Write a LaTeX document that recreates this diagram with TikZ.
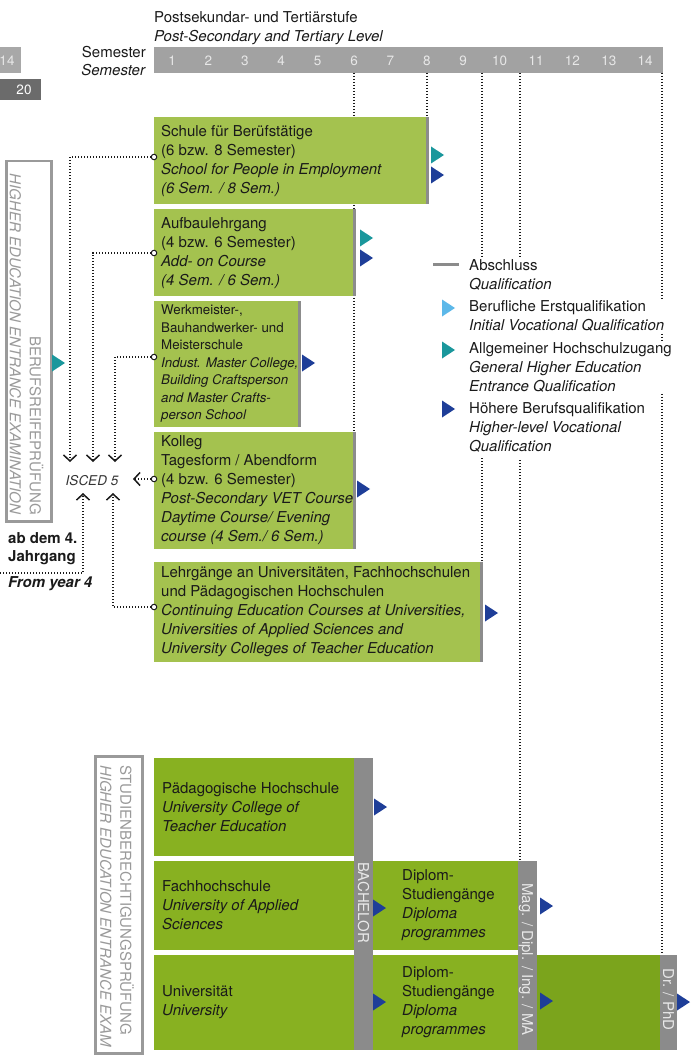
\documentclass[tikz,border=0pt]{standalone}
\usepackage{fontspec}
\setmainfont{TeX Gyre Heros}
\usetikzlibrary{arrows.meta}
\definecolor{lgreen}{HTML}{A4C24F}
\definecolor{dgreen}{HTML}{88B121}
\definecolor{ddgreen}{HTML}{7BA41C}
\definecolor{edgegray}{HTML}{8C8C8C}
\definecolor{bargray}{HTML}{8B8B8B}
\definecolor{hgray}{HTML}{A2A2A2}
\definecolor{numgray}{HTML}{E8E8E8}
\definecolor{rotgray}{HTML}{9A9A9A}
\definecolor{teal1}{HTML}{1A979C}
\definecolor{blue1}{HTML}{1E3E98}
\definecolor{lblue}{HTML}{5CB8E9}
\definecolor{ink}{HTML}{1A1A1A}
\definecolor{g14}{HTML}{A8A8A8}
\definecolor{g20}{HTML}{6B6B6B}
\definecolor{isc}{HTML}{333333}
\newcommand\mytri[3]{\fill[#1] (#2,#3) ++(0,-8.5) -- ++(13,8.5) -- ++(-13,8.5) -- cycle;}
\begin{document}
\begin{tikzpicture}[x=1pt,y=-1pt,
 fnt/.style={font=\fontsize{15}{19}\selectfont},
 txt/.style={fnt, text=ink, align=left, inner sep=0pt, anchor=west},
 line/.style={fnt, text=ink, inner sep=0pt, anchor=base west},
 tbox/.style={fill=lgreen, inner sep=0pt, outer sep=0pt, anchor=north west,
   path picture={\fill[edgegray] ([xshift=-3pt]path picture bounding box.north east) rectangle (path picture bounding box.south east);}},
 bbox/.style={fill=#1, inner sep=0pt, outer sep=0pt, anchor=north west},
 vtext/.style={rotate=-90, inner sep=0pt, font=\fontsize{15}{20}\selectfont},
 bartext/.style={rotate=-90, inner sep=0pt, font=\fontsize{15}{19}\selectfont, text=numgray, anchor=base west},
 num/.style={font=\fontsize{13.5}{16}\selectfont, text=numgray, anchor=base, inner sep=0pt},
 guide/.style={line width=1.1pt, dash pattern=on 1.1pt off 1.9pt, draw=ink},
 conn/.style={guide, -{Straight Barb[length=6pt,width=13pt,line width=1.5pt]}},
 port/.style={circle, draw=ink, fill=white, line width=1pt, inner sep=0pt, minimum size=5.5pt},
 framebox/.style={draw=rotgray, line width=2.5pt, fill=white, inner sep=0pt, anchor=north west}
]
\useasboundingbox (0,0) rectangle (692,1056);

% ---------- header ----------
\fill[g14] (0,47) rectangle (21,73);
\node[num, text=numgray] (n14) at (7,65.5) {14};
\fill[g20] (0,79) rectangle (41,100);
\node[num, text=white] (n20) at (24,94.5) {20};

\node[line] (h1) at (154,22.4) {Postsekundar- und Tertiärstufe};
\node[line] (h2) at (154,41.4) {\textit{Post-Secondary and Tertiary Level}};
\node[fnt, text=ink, inner sep=0pt, anchor=base east] (sem1) at (146,57.4) {Semester};
\node[fnt, text=ink, inner sep=0pt, anchor=base east] (sem2) at (146,75.4) {\textit{Semester}};
\node[bbox=hgray, minimum width=509pt, minimum height=26pt] (bar) at (154,47) {};
\foreach \k in {1,...,14} \node[num] at ({172+36.4*(\k-1)},65.5) {\k};

% ---------- guide lines ----------
\coordinate (t6) at (354,73);  \coordinate (b6) at (354,432);
\coordinate (t8) at (427,73);  \coordinate (b8) at (427,117);
\coordinate (t9) at (482,73);  \coordinate (b9) at (482,258);
\coordinate (u9) at (482,455); \coordinate (v9) at (482,562);
\coordinate (t10) at (520,73); \coordinate (b10) at (520,861);
\coordinate (t14) at (662,73); \coordinate (b14) at (662,955);
\draw[guide] (t6) -- (b6);
\draw[guide] (t8) -- (b8);
\draw[guide] (t9) -- (b9);
\draw[guide] (u9) -- (v9);
\draw[guide] (t10) -- (b10);
\draw[guide] (t14) -- (b14);

% ---------- upper boxes ----------
\node[tbox, minimum width=275pt, minimum height=87pt] (schule) at (154,117) {};
\node[txt] (schulet) at (161,160.5) {Schule für Berüfstätige\\(6 bzw. 8 Semester)\\\textit{School for People in Employment}\\\textit{(6 Sem. / 8 Sem.)}};
\mytri{teal1}{431}{155}
\mytri{blue1}{431}{175}

\node[tbox, minimum width=202pt, minimum height=87pt] (aufbau) at (154,209) {};
\node[txt] (aufbaut) at (161,253) {Aufbaulehrgang\\(4 bzw. 6 Semester)\\\textit{Add- on Course}\\\textit{(4 Sem. / 6 Sem.)}};
\mytri{teal1}{360}{238}
\mytri{blue1}{360}{258}

\node[tbox, minimum width=147pt, minimum height=126pt] (werk) at (154,301) {};
\node[txt, font=\fontsize{13.3}{17.5}\selectfont] (werkt) at (161,364) {Werkmeister-,\\Bauhandwerker- und\\Meisterschule\\\textit{Indust. Master College,}\\\textit{Building Craftsperson}\\\textit{and Master Crafts-}\\\textit{person School}};
\mytri{blue1}{302}{363}

\node[tbox, minimum width=202pt, minimum height=117pt] (kolleg) at (154,432) {};
\node[txt] (kollegt) at (161,490.5) {Kolleg\\Tagesform / Abendform\\(4 bzw. 6 Semester)\\\textit{Post-Secondary VET Course}\\\textit{Daytime Course/ Evening}\\\textit{course (4 Sem./ 6 Sem.)}};
\mytri{blue1}{357}{489}

\node[tbox, minimum width=329pt, minimum height=100pt] (lehr) at (154,562) {};
\node[txt] (lehrt) at (161,612) {Lehrgänge an Universitäten, Fachhochschulen\\und Pädagogischen Hochschulen\\\textit{Continuing Education Courses at Universities,}\\\textit{Universities of Applied Sciences and}\\\textit{University Colleges of Teacher Education}};
\mytri{blue1}{485}{613}

% ---------- legend ----------
\fill[white] (428,257) rectangle (655,458);
\coordinate (la) at (433,265); \coordinate (lb) at (459,265);
\draw[line width=3pt, bargray] (la) -- (lb);
\node[txt, fill=white, inner sep=1.5pt] (lg1) at (467.5,274.5) {Abschluss\\\textit{Qualification}};
\mytri{lblue}{442}{308}
\node[txt, fill=white, inner sep=1.5pt] (lg2) at (467.5,315.5) {Berufliche Erstqualifikation\\\textit{Initial Vocational Qualification}};
\mytri{teal1}{442}{350}
\node[txt, fill=white, inner sep=1.5pt] (lg3) at (467.5,367) {Allgemeiner Hochschulzugang\\\textit{General Higher Education}\\\textit{Entrance Qualification}};
\mytri{blue1}{442}{409}
\node[txt, fill=white, inner sep=1.5pt] (lg4) at (467.5,427) {Höhere Berufsqualifikation\\\textit{Higher-level Vocational}\\\textit{Qualification}};

% ---------- left frame (Berufsreifeprüfung) ----------
\node[framebox, minimum width=45pt, minimum height=360pt] (brp) at (5,160) {};
\node[vtext, text=rotgray, align=right, anchor=east] (brpt) at (26.5,515) {BERUFSREIFEPRÜFUNG\\\textit{HIGHER EDUCATION ENTRANCE EXAMINATION}};
\mytri{teal1}{52}{363}

% ---------- ISCED connectors ----------
\node[font=\fontsize{13.5}{16}\selectfont\itshape, text=isc, inner sep=0pt, anchor=base] (isced) at (92,485) {ISCED 5};
\node[port] (s1) at (154,157) {};
\node[port] (s2) at (154,253) {};
\node[port] (s3) at (154,357) {};
\node[port] (s4) at (154,479) {};
\node[port] (s5) at (154,607) {};
\coordinate (s6) at (0,573);
\coordinate (a1) at (70,462);
\coordinate (a2) at (93,462);
\coordinate (a3) at (115,462);
\coordinate (a4) at (133,479);
\coordinate (a5) at (113,493);
\coordinate (a6) at (83,493);
\draw[conn] (s1) -| (a1);
\draw[conn] (s2) -| (a2);
\draw[conn] (s3) -| (a3);
\draw[conn] (s4) -- (a4);
\draw[conn] (s5) -| (a5);
\draw[conn] (s6) -| (a6);

\node[line, font=\fontsize{15}{19}\selectfont\bfseries] (ab1) at (8,543.4) {ab dem 4.};
\node[line, font=\fontsize{15}{19}\selectfont\bfseries] (ab2) at (8,561.4) {Jahrgang};
\node[line, font=\fontsize{15}{19}\selectfont\bfseries\itshape] (ab3) at (8,587.4) {From year 4};

% ---------- lower section ----------
\node[framebox, minimum width=47pt, minimum height=297pt] (sbp) at (94,755) {};
\node[vtext, text=rotgray, align=left, anchor=west] (sbpt) at (117,765) {STUDIENBERECHTIGUNGSPRÜFUNG\\\textit{HIGHER EDUCATION ENTRANCE EXAM}};

\node[bbox=dgreen, minimum width=200pt, minimum height=98pt] (ped) at (154,758) {};
\node[txt] (pedt) at (162,807) {Pädagogische Hochschule\\\textit{University College of}\\\textit{Teacher Education}};
\node[bbox=dgreen, minimum width=200pt, minimum height=89pt] (fh) at (154,861) {};
\node[txt] (fht) at (162,905.5) {Fachhochschule\\\textit{University of Applied}\\\textit{Sciences}};
\node[bbox=dgreen, minimum width=200pt, minimum height=95pt] (uni) at (154,955) {};
\node[txt] (unit) at (162,1002.5) {Universität\\\textit{University}};

\node[bbox=bargray, minimum width=19pt, minimum height=292pt] (bach) at (354,758) {};
\node[bartext] (bacht) at (358,862) {BACHELOR};
\mytri{blue1}{374}{807}

\node[bbox=dgreen, minimum width=145pt, minimum height=89pt] (dip2) at (373,861) {};
\node[txt] (dip2t) at (402,905.5) {Diplom-\\Studiengänge\\\textit{Diploma}\\\textit{programmes}};
\node[bbox=dgreen, minimum width=145pt, minimum height=95pt] (dip3) at (373,955) {};
\node[txt] (dip3t) at (402,1002.5) {Diplom-\\Studiengänge\\\textit{Diploma}\\\textit{programmes}};
\mytri{blue1}{373}{908}
\mytri{blue1}{373}{1002}

\node[bbox=bargray, minimum width=19pt, minimum height=189pt] (mag) at (518,861) {};
\node[bartext] (magt) at (522,883) {Mag. / Dipl. / Ing. / MA};
\mytri{blue1}{540}{906}

\node[bbox=ddgreen, minimum width=123pt, minimum height=95pt] (doc) at (537,955) {};
\mytri{blue1}{540}{1001}
\node[bbox=bargray, minimum width=17pt, minimum height=95pt] (dr) at (660,955) {};
\node[bartext] (drt) at (663,968) {Dr. / PhD};
\mytri{blue1}{677}{1002}

\end{tikzpicture}
\end{document}
